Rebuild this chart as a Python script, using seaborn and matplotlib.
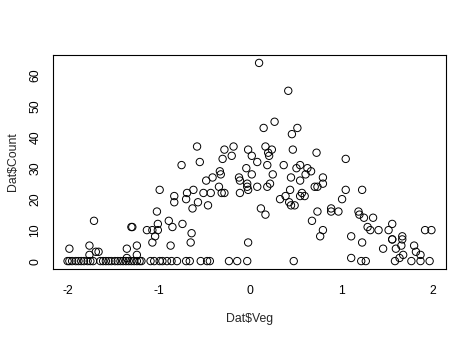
import matplotlib
matplotlib.use("Agg")
import matplotlib.pyplot as plt
import seaborn as sns
import pandas as pd

# Non-zero observations
veg_pos = [-1.98, -1.76, -1.76, -1.71, -1.69, -1.66, -1.35, -1.35, -1.30, -1.29, -1.24, -1.24,
           -1.07, -1.13, -1.01, -1.01, -1.04, -1.07, -1.02, -0.99, -0.89, -0.85, -0.87, -0.83,
           -0.83, -0.74, -0.75, -0.69, -0.70, -0.62, -0.57, -0.63, -0.64, -0.65,
           -0.58, -0.55, -0.51, -0.43, -0.46, -0.48, -0.41, -0.34, -0.33, -0.32, -0.31, -0.28,
           -0.28, -0.30, -0.20, -0.18, -0.12, -0.11, -0.11, -0.03, -0.03, -0.02, -0.04, -0.02,
           0.02, 0.02, -0.02,
           0.10, 0.15, 0.27, 0.17, 0.20, 0.21, 0.24, 0.08, 0.19, 0.25, 0.08, 0.19, 0.22, 0.12, 0.17,
           0.42, 0.46, 0.52, 0.47, 0.73, 1.05, 0.37, 0.51, 0.55, 0.63, 0.67, 0.61, 0.45, 0.55,
           0.80, 0.80, 0.71, 0.74, 0.44, 0.33, 0.39, 0.57, 0.55, 0.60, 0.43, 0.45, 0.49, 0.74,
           0.89, 0.89, 0.97, 1.01, 0.68, 0.80, 0.77,
           1.05, 1.23, 1.19, 1.20, 1.25, 1.35, 1.29, 1.32, 1.41, 1.52, 1.56, 1.92, 1.99, 1.11,
           1.56, 1.56, 1.67, 1.67, 1.23, 1.46, 1.60, 1.66, 1.80, 1.82, 1.87, 1.68, 1.64, 1.11]
count_pos = [4, 5, 2, 13, 3, 3, 4, 1, 11, 11, 5, 2,
             10, 10, 10, 12, 8, 6, 16, 23, 13, 11, 5, 21,
             19, 12, 31, 22, 20, 23, 19, 17, 9, 6,
             37, 32, 22, 22, 18, 26, 27, 24, 29, 28, 22, 22,
             36, 33, 34, 37, 27, 26, 22, 25, 24, 23, 30, 36,
             34, 28, 6,
             64, 43, 45, 37, 35, 34, 36, 32, 31, 28, 24, 24, 25, 17, 15,
             55, 41, 43, 36, 35, 33, 31, 30, 31, 30, 29, 28, 27, 26,
             27, 25, 24, 24, 23, 20, 21, 22, 21, 21, 19, 18, 18, 16,
             17, 16, 16, 20, 13, 10, 8,
             23, 23, 16, 15, 14, 14, 11, 10, 10, 10, 12, 10, 10, 8,
             7, 7, 8, 7, 6, 4, 4, 5, 5, 3, 2, 2, 1, 1]

# Zero-count observations
veg_zero = [-2.00, -1.98, -1.95, -1.91, -1.88, -1.85, -1.82, -1.78, -1.75, -1.72,
            -1.64, -1.61, -1.58, -1.55, -1.52, -1.48, -1.45, -1.42, -1.39, -1.36,
            -1.33, -1.30, -1.27, -1.24, -1.21, -1.19, -1.09, -1.05, -0.99, -0.96,
            -0.91, -0.86, -0.80, -0.70, -0.66, -0.54, -0.47, -0.44, -0.23, -0.14,
            -0.03, 0.48, 1.22, 1.27, 1.59, 1.77, 1.87, 1.97]
count_zero = [0] * len(veg_zero)

x_ticks = [-2, -1, 0, 1, 2]
y_ticks = [0, 10, 20, 30, 40, 50, 60]

df = pd.DataFrame({"Veg": veg_pos + veg_zero, "Count": count_pos + count_zero})

sns.set_style("white")
plt.rcParams["font.family"] = ["Liberation Sans", "DejaVu Sans"]

fig = plt.figure(figsize=(4.74, 3.38), dpi=100)
ax = fig.add_axes([53 / 474, 1 - 269 / 338, (446 - 53) / 474, (269 - 55) / 338])

sns.scatterplot(data=df, x="Veg", y="Count", ax=ax, marker="o", s=28,
                facecolors="none", edgecolor="black", linewidth=0.7)

xr = max(df["Veg"]) - min(df["Veg"])
ax.set_xlim(min(df["Veg"]) - 0.04 * xr, max(df["Veg"]) + 0.04 * xr)
yr = max(df["Count"]) - min(df["Count"])
ax.set_ylim(min(df["Count"]) - 0.04 * yr, max(df["Count"]) + 0.04 * yr)

ax.set_xticks(x_ticks)
ax.set_xticklabels([str(v) for v in x_ticks])
ax.set_yticks(y_ticks)
ax.set_yticklabels([str(v) for v in y_ticks], rotation=90, va="center")

for s in ax.spines.values():
    s.set_visible(True)
    s.set_color("black")
    s.set_linewidth(0.8)

ax.tick_params(axis="both", direction="out", length=5.2, width=0.7, color="black",
               labelsize=8.8, labelcolor="black")
ax.tick_params(axis="x", pad=6.5)
ax.tick_params(axis="y", pad=3)

ax.set_xlabel(r"Dat\$Veg", fontsize=8.8, labelpad=11)
ax.set_ylabel(r"Dat\$Count", fontsize=8.8, labelpad=8)

fig.savefig("out.png", dpi=100, facecolor="white")
